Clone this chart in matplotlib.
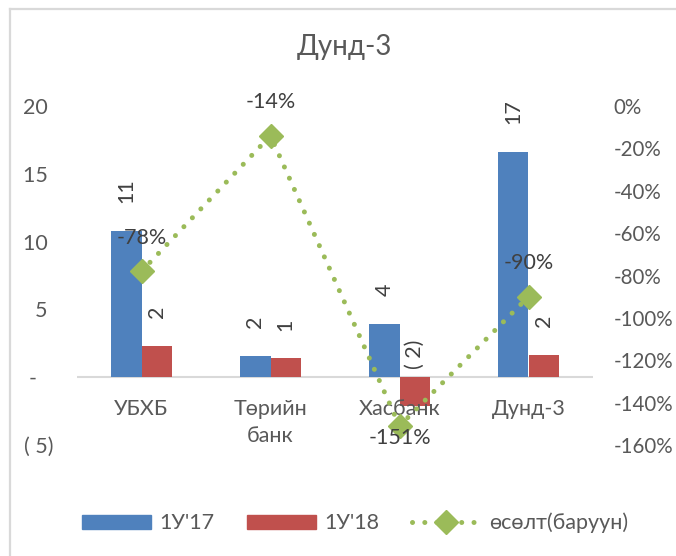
import numpy as np
import matplotlib
matplotlib.use("Agg")
import matplotlib.pyplot as plt
from matplotlib.patches import Patch
from matplotlib.lines import Line2D
from matplotlib.ticker import FuncFormatter

plt.rcParams['font.family'] = ['Lato', 'Noto Sans', 'DejaVu Sans']

# data
categories = ['УБХБ', 'Төрийн\nбанк', 'Хасбанк', 'Дунд-3']
q17 = [10.8, 1.6, 3.95, 16.6]      # 1У'17
q18 = [2.3, 1.38, -2.1, 1.65]      # 1У'18
growth = [-0.78, -0.14, -1.51, -0.90]  # өсөлт (right axis)
left_ticks = [-5, 0, 5, 10, 15, 20]
right_ticks = [0, -0.2, -0.4, -0.6, -0.8, -1.0, -1.2, -1.4, -1.6]

blue = '#4F81BD'
red = '#C0504D'
green = '#9BBB59'
grey = '#595959'
fs = 15.5
dots = (0, (0.01, 2.45))

W, H = 676, 556
fig = plt.figure(figsize=(W / 100, H / 100), dpi=100)

# chart border (top / left only visible)
fig.add_artist(Line2D([10 / W, 10 / W], [0, 1 - 9 / H], color='#d9d9d9', lw=1.6))
fig.add_artist(Line2D([10 / W, 1], [1 - 9 / H, 1 - 9 / H], color='#d9d9d9', lw=1.6))

ax = fig.add_axes([77 / W, 1 - 445 / H, 516 / W, 339 / H])
x = np.arange(len(categories))
w = 0.235
b1 = ax.bar(x - w / 2, q17, w, color=blue)
b2 = ax.bar(x + w / 2, q18, w, color=red)
ax.axhline(0, color='#d9d9d9', lw=1.5, zorder=0.5)
ax.set_xlim(-0.5, len(categories) - 0.5)
ax.set_ylim(-5, 20)
for s in ax.spines.values():
    s.set_visible(False)


def acct(v, pos=None):
    if v > 0:
        return f"{v:.0f} "
    if v < 0:
        return f"( {abs(v):.0f})"
    return "-   "


ax.set_yticks(left_ticks)
ax.yaxis.set_major_formatter(FuncFormatter(acct))
ax.tick_params(axis='y', length=0, pad=17, labelsize=fs, labelcolor=grey)
ax.set_xticks([])

# category labels sit under the zero line
for i, c in enumerate(categories):
    ax.annotate(c, (i, 0), xytext=(0, -16), textcoords='offset points',
                ha='center', va='top', fontsize=fs, color=grey, linespacing=1.4)

# bar data labels, rotated
for bars, vals in ((b1, q17), (b2, q18)):
    for r, v in zip(bars, vals):
        txt = f"{round(v):.0f}" if v >= 0 else f"( {abs(round(v)):.0f})"
        off = 20 if v > 0 else 6
        ax.annotate(txt, (r.get_x() + r.get_width() / 2, max(v, 0)),
                    xytext=(0, off), textcoords='offset points', rotation=90,
                    ha='center', va='bottom', fontsize=fs, color='#404040')

ax2 = ax.twinx()
ax2.plot(x, growth, color=green, lw=3.6, linestyle=dots,
         dash_capstyle='round', marker='D', markersize=12, zorder=3)
ax2.set_ylim(-1.6, 0)
ax2.set_yticks(right_ticks)
ax2.yaxis.set_major_formatter(FuncFormatter(lambda v, p: f"{round(v * 100):.0f}%"))
ax2.tick_params(axis='y', length=0, pad=15, labelsize=14.8, labelcolor=grey)
for s in ax2.spines.values():
    s.set_visible(False)

for i, g in enumerate(growth):
    off = -9 if g < -1.4 else 24
    ax2.annotate(f"{round(g * 100):.0f}%", (i, g), xytext=(0, off),
                 textcoords='offset points', ha='center', va='center',
                 fontsize=fs, color='#404040')

fig.text(344 / W, 1 - 55 / H, 'Дунд-3', ha='center', va='baseline',
         fontsize=20, color=grey)

handles = [Patch(color=blue), Patch(color=red),
           Line2D([], [], color=green, lw=3.6, linestyle=dots,
                  dash_capstyle='round', marker='D', markersize=12)]
fig.legend(handles, ["1У'17", "1У'18", 'өсөлт(баруун)'], loc='center',
           bbox_to_anchor=(355 / W, 1 - 523 / H), ncol=3, frameon=False,
           fontsize=fs, labelcolor=grey, handlelength=3.2, handleheight=0.65,
           handletextpad=0.4, columnspacing=1.5, numpoints=1)

fig.savefig('out.png', dpi=100)
